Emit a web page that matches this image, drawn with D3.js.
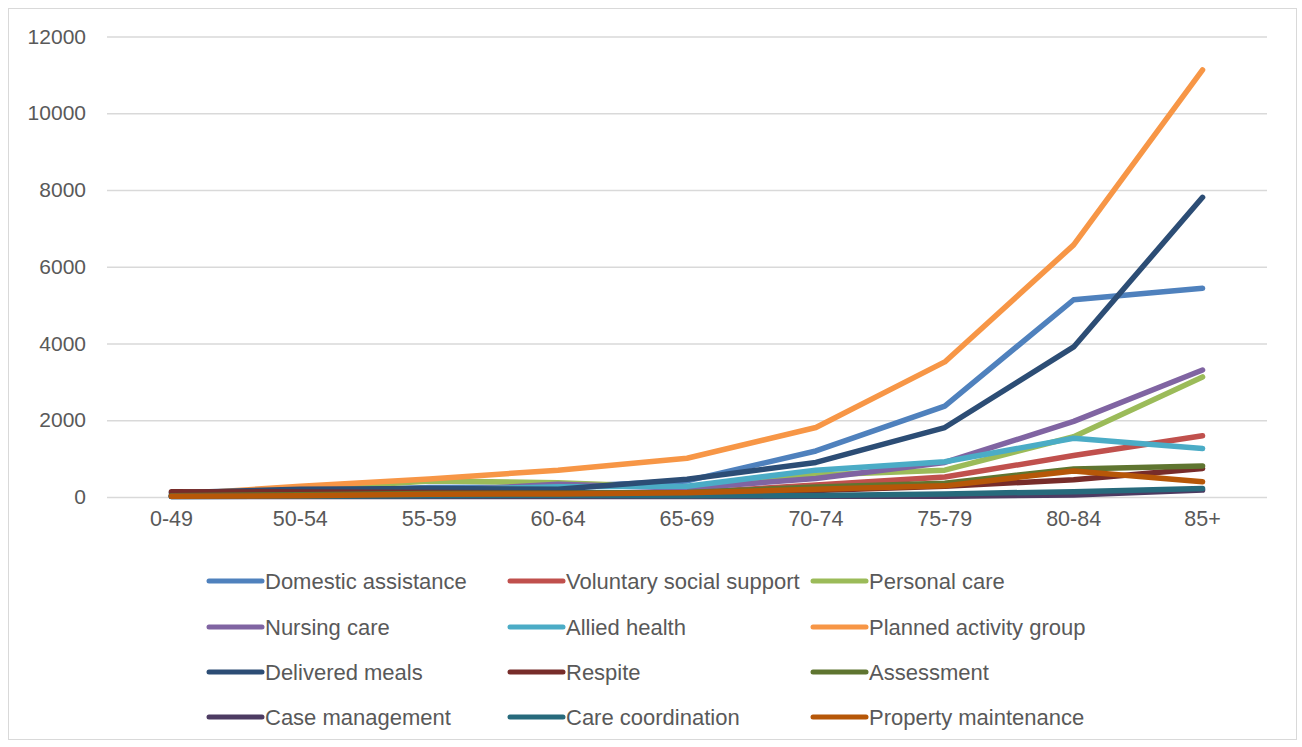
<!DOCTYPE html>
<html>
<head>
<meta charset="utf-8">
<script src="https://cdn.jsdelivr.net/npm/d3@7/dist/d3.min.js"></script>
<style>
  html, body { margin: 0; padding: 0; background: #fff; }
  svg { display: block; }
  text { font-family: "Liberation Sans", Arial, sans-serif; fill: #595959; }
</style>
</head>
<body>
<svg id="chart" width="1302" height="747"></svg>
<script>
// Age groups along the x axis
const categories = ["0-49", "50-54", "55-59", "60-64", "65-69", "70-74", "75-79", "80-84", "85+"];

// Clients by service type and age group
const domesticAssistance   = [60, 150, 250, 260, 420, 1200, 2370, 5140, 5440];
const voluntarySocial      = [20, 40, 60, 70, 110, 310, 520, 1080, 1595];
const personalCare         = [30, 200, 420, 370, 250, 575, 700, 1570, 3130];
const nursingCare          = [20, 60, 150, 330, 230, 480, 900, 1970, 3310];
const alliedHealth         = [20, 60, 180, 270, 280, 700, 920, 1530, 1265];
const plannedActivityGroup = [60, 280, 470, 700, 1010, 1810, 3520, 6570, 11130];
const deliveredMeals       = [110, 200, 220, 200, 460, 900, 1810, 3910, 7810];
const respite              = [140, 130, 120, 110, 100, 170, 280, 450, 740];
const assessment           = [30, 60, 90, 100, 120, 260, 360, 730, 810];
const caseManagement       = [10, 10, 10, 10, 10, 20, 20, 50, 180];
const careCoordination     = [10, 20, 30, 40, 30, 40, 80, 140, 220];
const propertyMaintenance  = [20, 30, 70, 80, 110, 200, 290, 680, 400];

const seriesNames = [
  "Domestic assistance", "Voluntary social support", "Personal care",
  "Nursing care", "Allied health", "Planned activity group",
  "Delivered meals", "Respite", "Assessment",
  "Case management", "Care coordination", "Property maintenance"
];
const seriesValues = [
  domesticAssistance, voluntarySocial, personalCare,
  nursingCare, alliedHealth, plannedActivityGroup,
  deliveredMeals, respite, assessment,
  caseManagement, careCoordination, propertyMaintenance
];
const seriesColors = [
  "#4F81BD", "#C0504D", "#9BBB59",
  "#8064A2", "#4BACC6", "#F79646",
  "#2C4D75", "#772C2A", "#5F7530",
  "#4D3B62", "#276A7C", "#B65708"
];

const yTicks = [0, 2000, 4000, 6000, 8000, 10000, 12000];

const series = seriesNames.map((name, i) => ({
  name, color: seriesColors[i], values: seriesValues[i]
}));

const svg = d3.select("#chart");

// Outer chart frame
svg.append("rect")
  .attr("x", 8.5).attr("y", 8.5)
  .attr("width", 1288).attr("height", 731)
  .attr("fill", "#fff")
  .attr("stroke", "#D9D9D9")
  .attr("stroke-width", 1);

const x = d3.scaleBand().domain(categories).range([107, 1267]);
const y = d3.scaleLinear().domain([0, 12000]).range([497, 36.5]);

// Horizontal gridlines with value labels
const yAxis = d3.axisLeft(y).tickValues(yTicks).tickSize(-(1267 - 107)).tickPadding(21)
  .tickFormat(d3.format("d"));
const gy = svg.append("g").attr("transform", "translate(107,0)").call(yAxis);
gy.select(".domain").remove();
gy.selectAll(".tick line").attr("stroke", "#D9D9D9").attr("stroke-width", 1.5);
gy.selectAll(".tick text")
  .attr("fill", "#595959")
  .style("font-size", "21px")
  .style("font-family", "'Liberation Sans', Arial, sans-serif");

// Category labels
const xAxis = d3.axisBottom(x).tickSize(0).tickPadding(14);
const gx = svg.append("g").attr("transform", "translate(0,497)").call(xAxis);
gx.select(".domain").remove();
gx.selectAll(".tick text")
  .attr("fill", "#595959")
  .style("font-size", "21.5px")
  .style("font-family", "'Liberation Sans', Arial, sans-serif");

// Series lines
const line = d3.line()
  .x((d, i) => x(categories[i]) + x.bandwidth() / 2)
  .y(d => y(d));

svg.append("g").selectAll("path")
  .data(series)
  .join("path")
  .attr("d", d => line(d.values))
  .attr("fill", "none")
  .attr("stroke", d => d.color)
  .attr("stroke-width", 5.5)
  .attr("stroke-linejoin", "round")
  .attr("stroke-linecap", "round");

// Legend: three columns, four rows
const legendCols = [207, 508, 811];
const legendRows = [581, 627, 672, 717];
const legend = svg.append("g").selectAll("g")
  .data(series)
  .join("g")
  .attr("transform", (d, i) => `translate(${legendCols[i % 3]},${legendRows[Math.floor(i / 3)]})`);

legend.append("line")
  .attr("x1", 2).attr("x2", 55)
  .attr("y1", 0).attr("y2", 0)
  .attr("stroke", d => d.color)
  .attr("stroke-width", 5)
  .attr("stroke-linecap", "round");

legend.append("text")
  .attr("x", 58)
  .attr("y", 0)
  .attr("dy", "0.35em")
  .style("font-size", "22px")
  .text(d => d.name);
</script>
</body>
</html>
